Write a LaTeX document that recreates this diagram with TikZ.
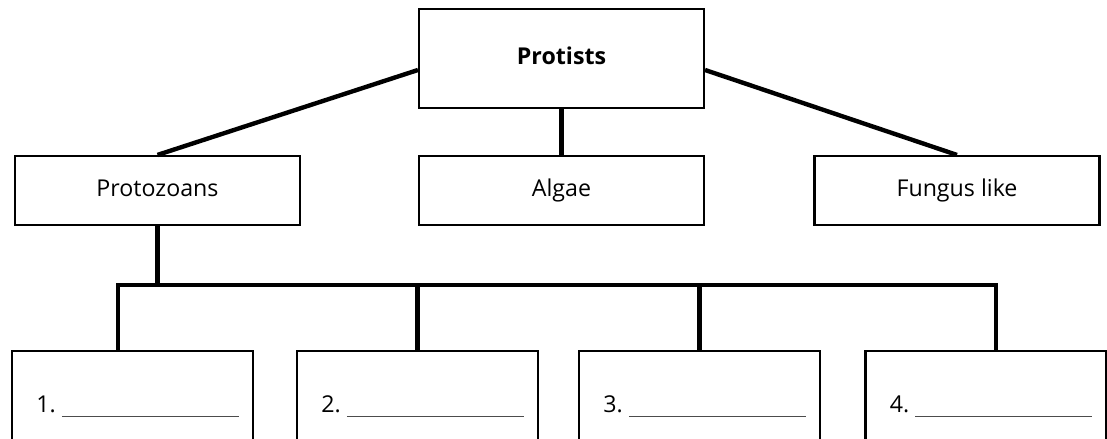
\documentclass[tikz,border=0pt]{standalone}
\usepackage{fontspec}
\setmainfont{Open Sans}
\usepackage{tikz}
\newcommand{\answerline}{\textcolor{black!70}{\rule[-0.08cm]{3.54cm}{0.6pt}}}
\begin{document}
\begin{tikzpicture}[
    font=\fontsize{13.2}{16}\selectfont,
    box/.style={draw, line width=1.2pt, minimum width=5.7cm, minimum height=1.38cm, text height=1.34ex, text depth=0pt, align=center},
    top/.style={box, minimum height=1.98cm, font=\fontsize{13.2}{16}\selectfont\bfseries},
    blank/.style={draw, line width=1.2pt, minimum width=4.82cm, minimum height=2.06cm},
    entry/.style={anchor=base west, inner sep=0pt},
    link/.style={line width=2.5pt}
  ]
    \useasboundingbox (0,0) rectangle (22.14,8.78);

    \node[top] (prot) at (11.23,7.61) {Protists};

    \node[box] (pzoa) at (3.15,4.97)  {Protozoans};
    \node[box] (alg)  at (11.23,4.97) {Algae};
    \node[box] (fung) at (19.14,4.97) {Fungus like};

    \draw[link] ([yshift=-0.23cm]prot.west) -- (pzoa.north);
    \draw[link] (prot.south) -- (alg.north);
    \draw[link] ([yshift=-0.23cm]prot.east) -- (fung.north);

    \node[blank] (b1) at (2.65,0.73)  {};
    \node[blank] (b2) at (8.35,0.73)  {};
    \node[blank] (b3) at (13.99,0.73) {};
    \node[blank] (b4) at (19.72,0.73) {};

    \node[entry] (l1) at ([xshift=0.5cm,yshift=-1.26cm]b1.north west) {1.\ \answerline};
    \node[entry] (l2) at ([xshift=0.5cm,yshift=-1.26cm]b2.north west) {2.\ \answerline};
    \node[entry] (l3) at ([xshift=0.5cm,yshift=-1.26cm]b3.north west) {3.\ \answerline};
    \node[entry] (l4) at ([xshift=0.5cm,yshift=-1.26cm]b4.north west) {4.\ \answerline};

    \coordinate (bar) at (pzoa.south |- 0,3.08);
    \draw[link] (pzoa.south) -- (bar);
    \draw[link] ([xshift=-0.29cm]b1.north) |- (bar) -| ([xshift=0.2cm]b4.north);
    \draw[link] (b2.north) -- (b2.north |- bar);
    \draw[link] (b3.north) -- (b3.north |- bar);
  \end{tikzpicture}
\end{document}
